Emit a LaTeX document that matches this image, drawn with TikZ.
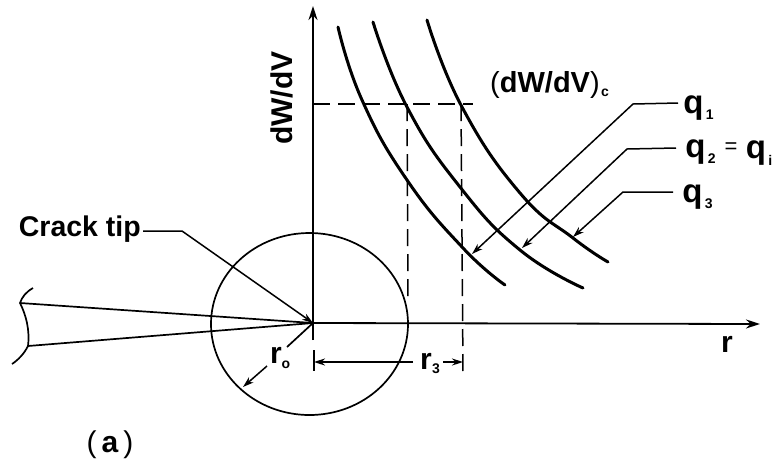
\documentclass[tikz,border=0pt]{standalone}
\usepackage{fontspec}
\setmainfont{Liberation Sans}
\usetikzlibrary{arrows.meta,positioning,calc}

\begin{document}
\begin{tikzpicture}[
    x=1pt, y=-1pt,
    axis/.style={line width=1.8pt,->,>={Stealth[length=14pt,width=9pt]}},
    curve/.style={line width=3pt,line cap=round},
    leader/.style={line width=1.5pt,->,>={Stealth[length=11pt,width=7pt]}},
    guide/.style={line width=1.5pt,dash pattern=on 17pt off 8pt},
    plain/.style={line width=1.7pt},
    lab/.style={inner sep=0pt,font=\fontsize{30}{30}\selectfont\bfseries},
    qlab/.style={inner sep=0pt,font=\fontsize{33}{33}\selectfont\bfseries},
    sub/.style={inner sep=0pt,font=\fontsize{14}{14}\selectfont\bfseries}
]
\useasboundingbox (0,0) rectangle (776,467);

% Crack tip and axes
\coordinate (tip) at (313,323);
\coordinate (ytop) at (313,6);
\coordinate (xend) at (760,324);
\coordinate (ylow) at (313,340);
\draw [axis] (ylow) -- (ytop);
\draw [axis] (tip) -- (xend);

% Plastic zone circle
\draw [plain] (309.5,324) ellipse (98.5 and 91);

% Crack faces
\coordinate (upface) at (20,303);
\coordinate (lowface) at (28,346);
\draw [plain] (upface) -- (tip);
\draw [plain] (lowface) -- (tip);
\draw [plain] (33,288) .. controls (26,292) and (22,297) .. (upface)
    .. controls (26,315) and (30,330) .. (lowface)
    .. controls (24,354) and (18,360) .. (12,364);

% Curves
\draw [curve] plot [smooth,tension=0.8] coordinates {(338,27) (362,100) (407,180) (463,248) (505,285)};
\draw [curve] plot [smooth,tension=0.8] coordinates {(373,22) (407,107) (460,187) (520,250) (583,288)};
\draw [curve] plot [smooth,tension=0.8] coordinates {(427,20) (462,107) (520,193) (573,238) (608,262)};

% Critical value lines
\coordinate (crit0) at (313,104);
\coordinate (crit1) at (407,104);
\coordinate (crit2) at (461,104);
\coordinate (critend) at (473,104);
\coordinate (foot1) at (408,300);
\coordinate (foot2) at (463,372);
\draw [guide] (crit0) -- (critend);
\draw [guide] (crit1) -- (foot1);
\draw [guide] (crit2) -- (foot2);

% Axis labels
\node [lab,rotate=90] at (282,98) (ylab) {dW/dV};
\node [lab] at (727,344) (rlab) {r};
\node [lab,font=\fontsize{30}{30}\selectfont] at (110,445) (alab) {(\,\textbf{a}\,)};
\node [lab,anchor=base west,font=\fontsize{29}{29}\selectfont\bfseries] at (490,92) (critlab) {\textmd{(}dW/dV\textmd{)}};
\node [sub,right=1pt of critlab,yshift=-8pt] (critsub) {c};

% q labels
\node [qlab] at (693.5,108) (qone) {q};
\node [sub,right=2pt of qone,yshift=-7pt] (qonesub) {1};
\node [qlab] at (695.5,152) (qtwo) {q};
\node [sub,right=2pt of qtwo,yshift=-7pt] (qtwosub) {2};
\node [lab,font=\fontsize{22}{22}\selectfont] at (731,148) (eqlab) {=};
\node [qlab] at (756,153) (qi) {q};
\node [sub,right=2pt of qi,yshift=-7pt] (qisub) {i};
\node [qlab] at (692.5,197) (qthree) {q};
\node [sub,right=2pt of qthree,yshift=-7pt] (qthreesub) {3};

% q leaders
\coordinate (qonetip) at (472,254);
\coordinate (qtwotip) at (522,248);
\coordinate (qthreetip) at (573,237);
\draw [leader] (678,103) -- (633,104) -- (qonetip);
\draw [leader] (676,148) -- (627,149) -- (qtwotip);
\draw [leader] (673,192) -- (623,192) -- (qthreetip);

% Crack tip label
\node [lab,anchor=east,font=\fontsize{28.5}{29}\selectfont\bfseries] at (141,229) (cracklab) {Crack tip};
\draw [leader] (cracklab.east) ++(2,2) -- (182,231) -- (tip);

% Radius r0
\node [lab] at (276,355) (rzero) {r};
\node [sub] at (286,365) (rzerosub) {o};
\coordinate (rim) at (243,387);
\draw [plain] (tip) -- (287,347);
\draw [leader] (267,366) -- (rim);

% Distance r3
\coordinate (tickl) at (314,350);
\coordinate (tickb) at (314,371);
\draw [plain] (tickl) -- (tickb);
\node [lab] at (426,361) (rthree) {r};
\node [sub] at (436,369) (rthreesub) {3};
\coordinate (dimleft) at (314,362);
\coordinate (dimright) at (463,362);
\coordinate (dimstart) at (413,362);
\coordinate (dimstop) at (443,362);
\draw [leader] (dimstart) -- (dimleft);
\draw [leader] (dimstop) -- (dimright);

\end{tikzpicture}
\end{document}
